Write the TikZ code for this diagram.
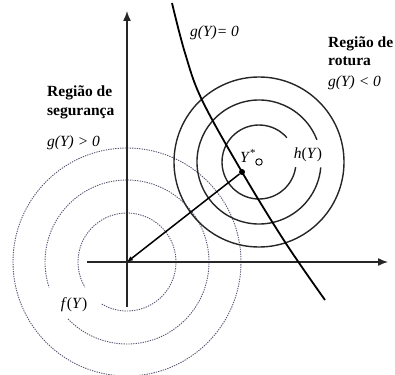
\documentclass[tikz,border=0pt]{standalone}
\usepackage{fontspec}
\setmainfont{Liberation Serif}
\usetikzlibrary{arrows.meta}
\begin{document}
\begin{tikzpicture}[x=1pt,y=-1pt,
  axisline/.style={line width=1.4pt, black!85},
  safecirc/.style={line width=0.9pt, color={rgb,255:red,85;green,85;blue,115}, dash pattern=on 1.3pt off 1.1pt},
  failcirc/.style={line width=1.4pt, black!85},
  lbl/.style={font=\fontsize{15.5}{18}\selectfont, inner sep=0pt},
  blbl/.style={font=\fontsize{15.5}{18.5}\selectfont\bfseries, inner sep=0pt, align=left}]
\useasboundingbox (0,0) rectangle (395,374);
% key points
\coordinate (O) at (127,262);
\coordinate (C) at (259,162);
\coordinate (ytop) at (127,11);
\coordinate (ybot) at (127,307);
\coordinate (xleft) at (87,262);
\coordinate (xright) at (388,262);
% dashed circles around origin
\draw[safecirc] (O) ++(239:49pt) arc[start angle=239, end angle=571, radius=49pt];
\draw[safecirc] (O) ++(224:82pt) arc[start angle=224, end angle=558, radius=82pt];
\draw[safecirc] (O) circle[radius=114pt];
% solid circles around design point
\draw[failcirc] (C) ++(41:37pt) arc[start angle=41, end angle=352, radius=37pt];
\draw[failcirc] (C) ++(21:62pt) arc[start angle=21, end angle=355, radius=62pt];
\draw[failcirc] (C) circle[radius=85pt];
% axes
\draw[axisline, -{Latex[length=10pt,width=8pt]}] (ybot) -- (ytop);
\draw[axisline, -{Latex[length=10pt,width=8pt]}] (xleft) -- (xright);
% limit state curve
\draw[line width=1.8pt, black] plot[smooth, tension=0.6] coordinates {(172,3) (185,53) (202,100) (242,172) (285,242) (325,300)};
% design point
\node[circle, fill=black, inner sep=0pt, minimum size=6pt] (ys) at (242,172) {};
\node[circle, draw=black, line width=0.9pt, inner sep=0pt, minimum size=6.5pt] (mc) at (C) {};
\draw[line width=1.5pt, black, -{Latex[length=6pt,width=5pt]}] (ys) -- (O);
% labels
\node[lbl] (ystar) at (248,156) {\textit{Y}\textsuperscript{*}};
\node[lbl] (hY) at (308,155) {\textit{h}(\textit{Y})};
\node[lbl] (fY) at (74,305) {\textit{f}(\textit{Y})};
\node[lbl, anchor=west] (gzero) at (190,33) {\textit{g(Y)= 0}};
\node[blbl, anchor=west] (rot) at (328,51) {Região de\\rotura};
\node[lbl, anchor=west] (gneg) at (328,83) {\textit{g(Y) < 0}};
\node[blbl, anchor=west] (seg) at (47,102.5) {Região de\\segurança};
\node[lbl, anchor=west] (gpos) at (47,143) {\textit{g(Y) > 0}};
\end{tikzpicture}
\end{document}
